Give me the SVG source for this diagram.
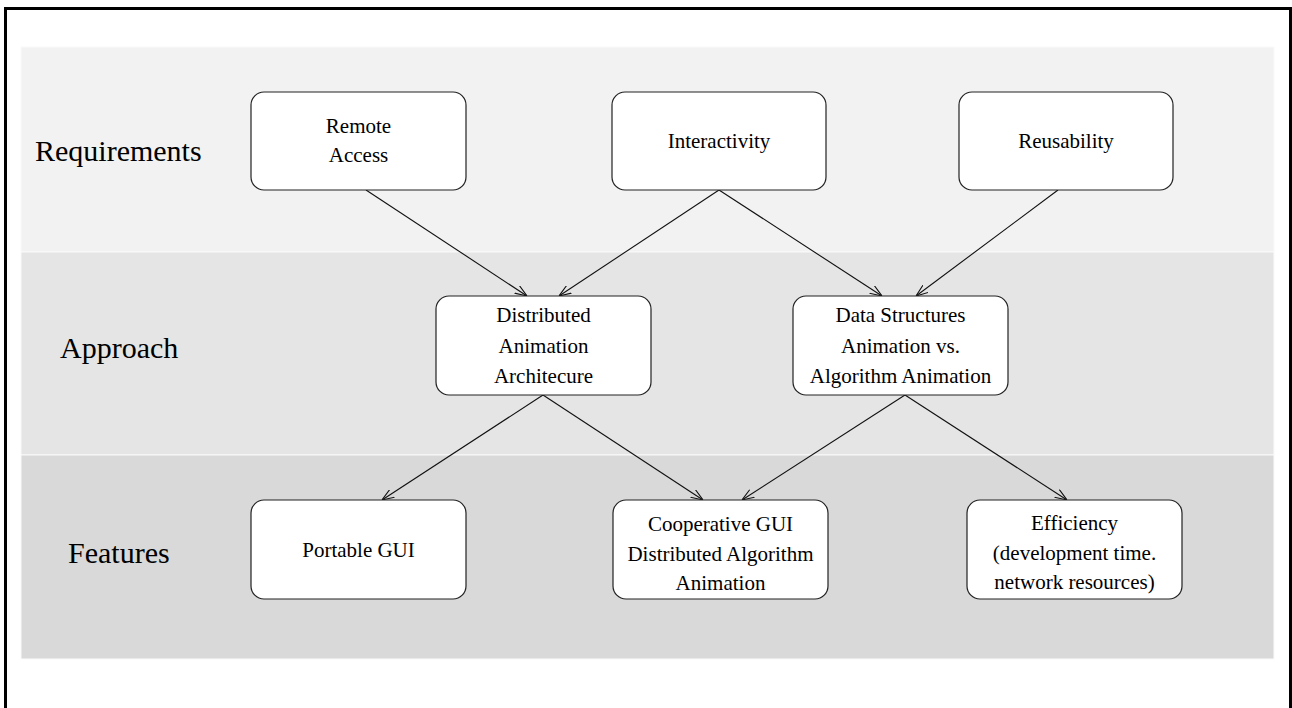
<svg xmlns="http://www.w3.org/2000/svg" width="1292" height="708" viewBox="0 0 1292 708">
<defs>
<style>
.band{stroke:#fafafa;stroke-width:1}
.node rect{fill:#fff;stroke:#222;stroke-width:1.2}
.node text{font-family:"Liberation Serif","Times New Roman",serif;font-size:21px;fill:#000;text-anchor:middle}
.lbl{font-family:"Liberation Serif","Times New Roman",serif;font-size:30px;fill:#000}
.edges line{stroke:#111;stroke-width:1.1;fill:none}
</style>
<marker id="arr" viewBox="0 0 12 10" refX="12" refY="5" markerWidth="12" markerHeight="10" markerUnits="userSpaceOnUse" orient="auto">
<path d="M0,0.5 L12,5 L0,9.5" fill="none" stroke="#111" stroke-width="1.1"/>
</marker>
</defs>
<rect x="0" y="0" width="1292" height="708" fill="#fff"/>
<rect x="5.5" y="8.5" width="1285" height="720" fill="none" stroke="#000" stroke-width="3"/>
<g id="bands">
<rect class="band" x="21" y="47" width="1253" height="205" fill="#f2f2f2"/>
<rect class="band" x="21" y="252" width="1253" height="203" fill="#e5e5e5"/>
<rect class="band" x="21" y="455" width="1253" height="204" fill="#d9d9d9"/>
</g>
<g id="labels">
<text class="lbl" x="35" y="161">Requirements</text>
<text class="lbl" x="60" y="358">Approach</text>
<text class="lbl" x="68" y="563">Features</text>
</g>
<g class="edges" id="connectors">
<line x1="366" y1="190" x2="527" y2="296" marker-end="url(#arr)"/>
<line x1="719" y1="190" x2="559" y2="296" marker-end="url(#arr)"/>
<line x1="719" y1="190" x2="882" y2="296" marker-end="url(#arr)"/>
<line x1="1058" y1="190" x2="916" y2="296" marker-end="url(#arr)"/>
<line x1="543" y1="395" x2="382" y2="500" marker-end="url(#arr)"/>
<line x1="543" y1="395" x2="703" y2="500" marker-end="url(#arr)"/>
<line x1="905" y1="395" x2="742" y2="500" marker-end="url(#arr)"/>
<line x1="905" y1="395" x2="1067" y2="500" marker-end="url(#arr)"/>
</g>
<g class="node" id="remote-access">
<rect x="251" y="92" width="215" height="98" rx="13"/>
<text x="358.5" y="133">Remote</text>
<text x="358.5" y="162">Access</text>
</g>
<g class="node" id="interactivity">
<rect x="612" y="92" width="214" height="98" rx="13"/>
<text x="719" y="148">Interactivity</text>
</g>
<g class="node" id="reusability">
<rect x="959" y="92" width="214" height="98" rx="13"/>
<text x="1066" y="148">Reusability</text>
</g>
<g class="node" id="distributed">
<rect x="436" y="296" width="215" height="99" rx="13"/>
<text x="543.5" y="322">Distributed</text>
<text x="543.5" y="353">Animation</text>
<text x="543.5" y="383">Architecure</text>
</g>
<g class="node" id="data-structures">
<rect x="793" y="296" width="215" height="99" rx="13"/>
<text x="900.5" y="322">Data Structures</text>
<text x="900.5" y="353">Animation vs.</text>
<text x="900.5" y="383">Algorithm Animation</text>
</g>
<g class="node" id="portable-gui">
<rect x="251" y="500" width="215" height="99" rx="13"/>
<text x="358.5" y="557">Portable GUI</text>
</g>
<g class="node" id="cooperative-gui">
<rect x="613" y="500" width="215" height="99" rx="13"/>
<text x="720.5" y="531">Cooperative GUI</text>
<text x="720.5" y="561">Distributed Algorithm</text>
<text x="720.5" y="590">Animation</text>
</g>
<g class="node" id="efficiency">
<rect x="967" y="500" width="215" height="99" rx="13"/>
<text x="1074.5" y="530">Efficiency</text>
<text x="1074.5" y="560">(development time.</text>
<text x="1074.5" y="589">network resources)</text>
</g>
</svg>
